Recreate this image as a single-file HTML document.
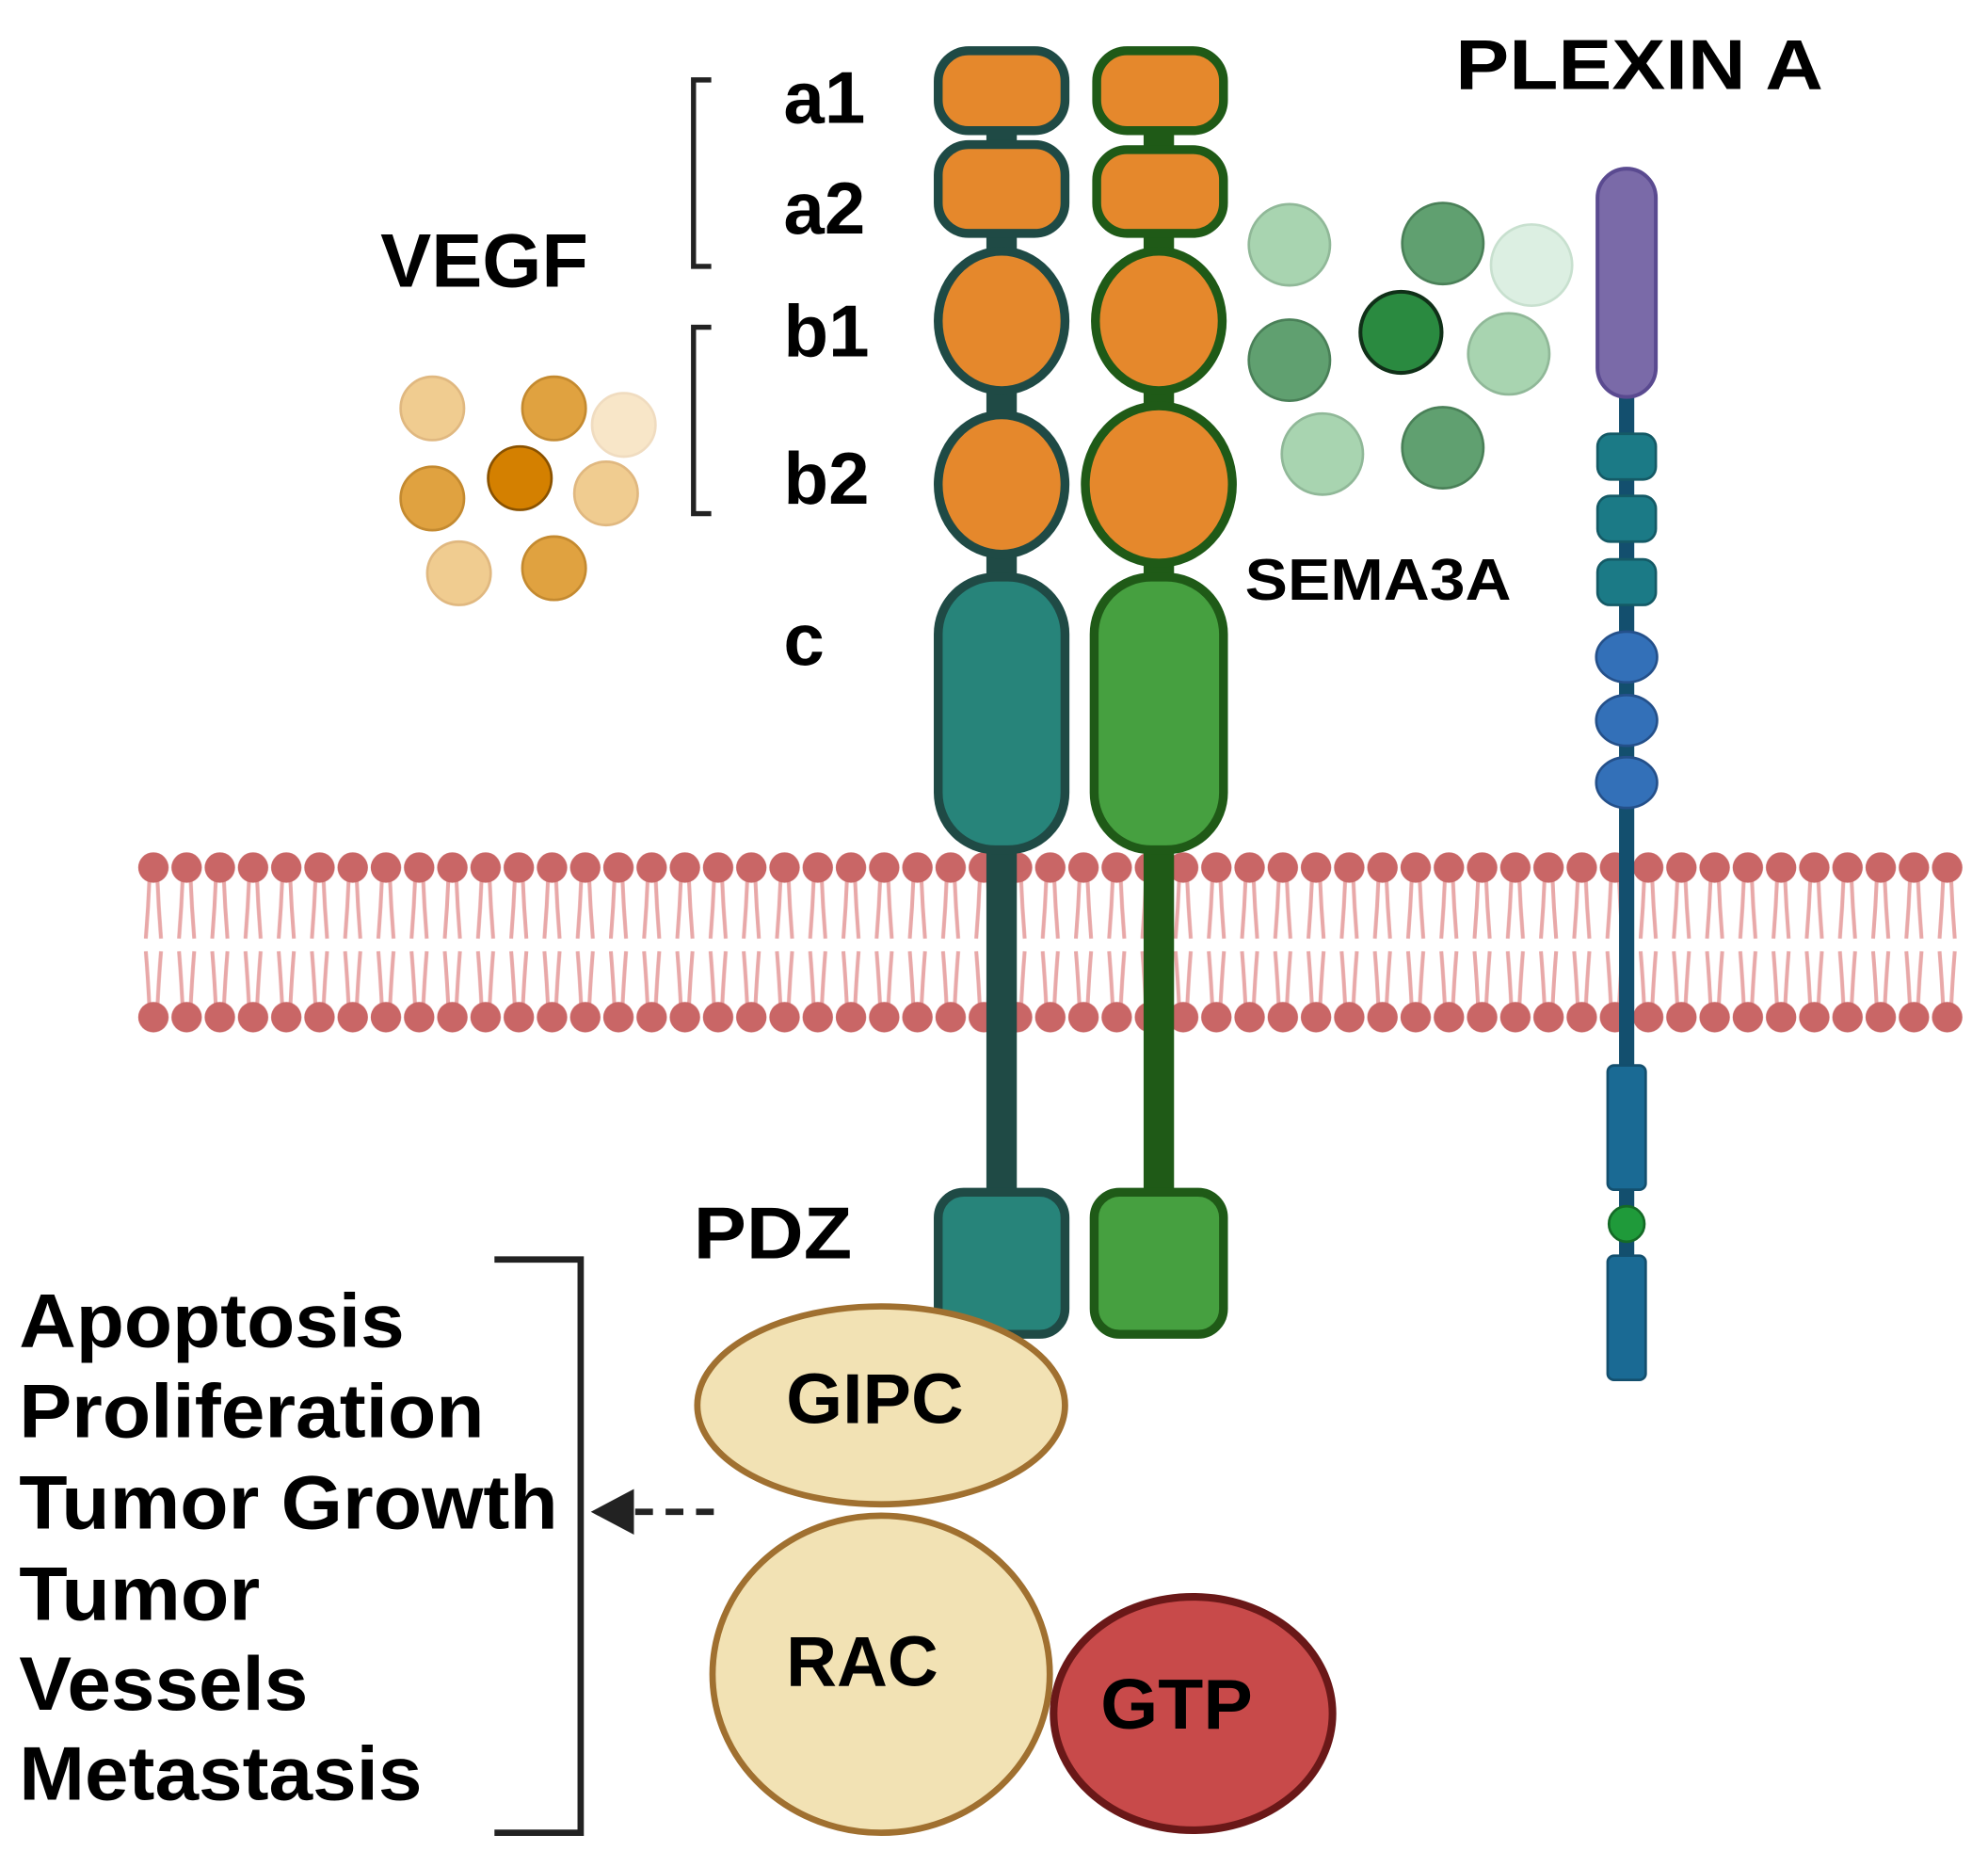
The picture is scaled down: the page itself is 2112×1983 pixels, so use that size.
<!DOCTYPE html>
<html><head><meta charset="utf-8"><style>html,body{margin:0;padding:0;background:#fff}svg{display:block}text{font-family:"Liberation Sans",sans-serif;font-weight:bold;fill:#000}</style></head>
<body>
<svg width="2112" height="1983" viewBox="0 0 1568 1472" preserveAspectRatio="none" xmlns="http://www.w3.org/2000/svg">
<defs>
<pattern id="mem" x="108" y="660" width="26.2" height="170" patternUnits="userSpaceOnUse">
<g stroke="#e8a8a8" stroke-width="3" fill="none">
<path d="M10 30 Q9 55 7 80"/><path d="M16 30 Q17 55 19 80"/>
<path d="M7 90 Q9 115 10 138"/><path d="M19 90 Q17 115 16 138"/>
</g>
<circle cx="13" cy="24" r="12" fill="#c96666"/>
<circle cx="13" cy="142" r="12" fill="#c96666"/>
</pattern>
</defs>
<rect x="108" y="660" width="1440" height="170" fill="url(#mem)"/>

<g stroke="#1f4a45" stroke-width="7">
<rect x="778" y="100" width="24" height="850" fill="#1f4a45" stroke="none"/>
<rect x="740" y="40" width="100" height="63" rx="24" fill="#e5882c"/>
<rect x="740" y="114" width="100" height="70" rx="24" fill="#e5882c"/>
<ellipse cx="790" cy="253" rx="50" ry="55" fill="#e5882c"/>
<ellipse cx="790" cy="382" rx="50" ry="55" fill="#e5882c"/>
<rect x="740" y="455" width="100" height="215" rx="45" fill="#27847a"/>
<rect x="740" y="940" width="100" height="112" rx="20" fill="#27847a"/>
</g>
<g stroke="#1f5a17" stroke-width="7">
<rect x="902" y="100" width="24" height="850" fill="#1f5a17" stroke="none"/>
<rect x="865" y="40" width="100" height="63" rx="24" fill="#e5882c"/>
<rect x="865" y="118" width="100" height="66" rx="24" fill="#e5882c"/>
<ellipse cx="914" cy="253" rx="50" ry="55" fill="#e5882c"/>
<ellipse cx="914" cy="382" rx="58" ry="62" fill="#e5882c"/>
<rect x="863" y="455" width="102" height="215" rx="45" fill="#46a040"/>
<rect x="863" y="940" width="102" height="112" rx="20" fill="#46a040"/>
</g>

<line x1="1283" y1="300" x2="1283" y2="1085" stroke="#134f6e" stroke-width="12"/>
<rect x="1260" y="133" width="46" height="180" rx="23" fill="#7a6aa8" stroke="#5a4a90" stroke-width="3"/>
<g fill="#1b7a86" stroke="#145a66" stroke-width="2">
<rect x="1260" y="342" width="46" height="36" rx="10"/>
<rect x="1260" y="391" width="46" height="36" rx="10"/>
<rect x="1260" y="441" width="46" height="36" rx="10"/>
</g>
<g fill="#3370b8" stroke="#24508a" stroke-width="2">
<ellipse cx="1283" cy="518" rx="24" ry="20"/>
<ellipse cx="1283" cy="568" rx="24" ry="20"/>
<ellipse cx="1283" cy="617" rx="24" ry="20"/>
</g>
<rect x="1268" y="840" width="30" height="98" rx="5" fill="#1a6a94" stroke="#134f6e" stroke-width="2"/>
<rect x="1268" y="990" width="30" height="98" rx="5" fill="#1a6a94" stroke="#134f6e" stroke-width="2"/>
<circle cx="1283" cy="965" r="14" fill="#1f9a3a" stroke="#146a26" stroke-width="2"/>

<g stroke-width="2">
<circle cx="341" cy="322" r="25" fill="#f0cc90" stroke="#e0b880"/>
<circle cx="437" cy="322" r="25" fill="#e0a240" stroke="#c48a30"/>
<circle cx="492" cy="335" r="25" fill="#f8e6c8" stroke="#f0dcc0"/>
<circle cx="410" cy="377" r="25" fill="#d48000" stroke="#8a5200"/>
<circle cx="341" cy="393" r="25" fill="#e0a240" stroke="#c48a30"/>
<circle cx="478" cy="389" r="25" fill="#f0cc90" stroke="#e0b880"/>
<circle cx="362" cy="452" r="25" fill="#f0cc90" stroke="#e0b880"/>
<circle cx="437" cy="448" r="25" fill="#e0a240" stroke="#c48a30"/>
</g>
<g stroke-width="2">
<circle cx="1017" cy="193" r="32" fill="#a8d4b0" stroke="#90b898"/>
<circle cx="1138" cy="192" r="32" fill="#60a070" stroke="#4a8058"/>
<circle cx="1208" cy="209" r="32" fill="#dcefe2" stroke="#c8e0cf"/>
<circle cx="1105" cy="262" r="32" fill="#2a8a40" stroke="#103018" stroke-width="3"/>
<circle cx="1017" cy="284" r="32" fill="#60a070" stroke="#4a8058"/>
<circle cx="1190" cy="279" r="32" fill="#a8d4b0" stroke="#90b898"/>
<circle cx="1043" cy="358" r="32" fill="#a8d4b0" stroke="#90b898"/>
<circle cx="1138" cy="353" r="32" fill="#60a070" stroke="#4a8058"/>
</g>

<g fill="none" stroke="#222" stroke-width="4">
<path d="M561 63 H547 V210 H561"/>
<path d="M561 258 H547 V405 H561"/>
<path d="M390 993 H458 V1445 H390" stroke-width="5"/>
</g>
<line x1="563" y1="1192" x2="495" y2="1192" stroke="#222" stroke-width="5" stroke-dasharray="14 10"/>
<polygon points="466,1192 500,1174 500,1210" fill="#222"/>

<ellipse cx="695" cy="1320" rx="133" ry="125" fill="#f2e2b4" stroke="#a07030" stroke-width="5"/>
<ellipse cx="695" cy="1108" rx="145" ry="78" fill="#f2e2b4" stroke="#a07030" stroke-width="5"/>
<ellipse cx="941" cy="1351" rx="110" ry="92" fill="#c84a4a" stroke="#6a1818" stroke-width="6"/>

<text x="1148" y="70" font-size="56" textLength="290" lengthAdjust="spacingAndGlyphs">PLEXIN A</text>
<text x="300" y="226" font-size="60" textLength="164" lengthAdjust="spacingAndGlyphs">VEGF</text>
<text x="618" y="97" font-size="58">a1</text>
<text x="618" y="184" font-size="58">a2</text>
<text x="618" y="281" font-size="58">b1</text>
<text x="618" y="397" font-size="58">b2</text>
<text x="618" y="524" font-size="58">c</text>
<text x="547" y="992" font-size="58" textLength="125" lengthAdjust="spacingAndGlyphs">PDZ</text>
<text x="982" y="473" font-size="46" textLength="210" lengthAdjust="spacingAndGlyphs">SEMA3A</text>
<text x="620" y="1122" font-size="56" textLength="140" lengthAdjust="spacingAndGlyphs">GIPC</text>
<text x="620" y="1329" font-size="56" textLength="120" lengthAdjust="spacingAndGlyphs">RAC</text>
<text x="868" y="1363" font-size="56" textLength="120" lengthAdjust="spacingAndGlyphs">GTP</text>
<g font-size="60">
<text x="15" y="1062" textLength="304" lengthAdjust="spacingAndGlyphs">Apoptosis</text>
<text x="15" y="1133" textLength="367" lengthAdjust="spacingAndGlyphs">Proliferation</text>
<text x="15" y="1205" textLength="425" lengthAdjust="spacingAndGlyphs">Tumor Growth</text>
<text x="15" y="1277" textLength="190" lengthAdjust="spacingAndGlyphs">Tumor</text>
<text x="15" y="1348" textLength="228" lengthAdjust="spacingAndGlyphs">Vessels</text>
<text x="15" y="1419" textLength="318" lengthAdjust="spacingAndGlyphs">Metastasis</text>
</g>
</svg>
</body></html>
